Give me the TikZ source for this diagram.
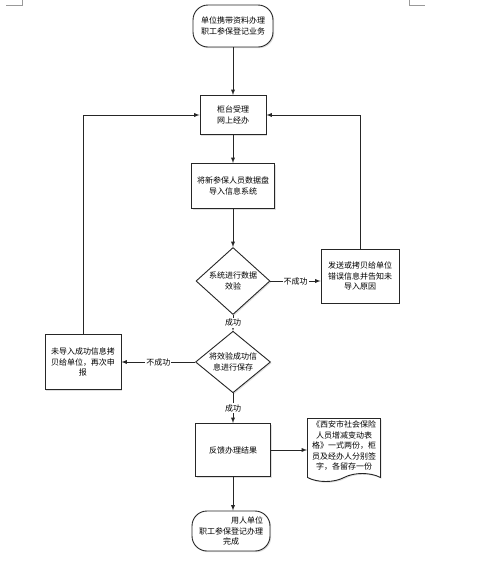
\documentclass[tikz,border=0pt]{standalone}
\usepackage{fontspec}
\newfontfamily\cjk{Noto Sans CJK SC}
\usetikzlibrary{shapes.geometric,shapes.symbols,shadows}

\tikzset{
  line/.style={draw=black!85,line width=0.9pt},
  shade/.style={drop shadow={fill=black!25,shadow xshift=1.2pt,shadow yshift=-1.2pt}},
  stepbox/.style={line,fill=white,shade,rectangle,inner sep=1pt},
  term/.style={line,fill=white,shade,rectangle,rounded corners=15pt,inner sep=1pt},
  test/.style={line,fill=white,shade,diamond,inner sep=0pt,aspect=1.1},
  paper/.style={line,fill=white,shade,tape,tape bend top=none,tape bend height=8pt,inner sep=1pt},
  flow/.style={line,-latex},
  tag/.style={fill=white,inner sep=1pt}
}

\begin{document}
\begin{tikzpicture}[x=1pt,y=-1pt,
    font=\cjk\fontsize{8}{10.5}\selectfont,
    every node/.append style={align=center}]
  \useasboundingbox (0,0) rectangle (480,579);
  % corner marks of the page
  \draw[black!40] (6,5) -- (22,5) -- (22,0);
  \draw[black!40] (409,0) -- (409,5) -- (425,5);

  \node[term,minimum width=80,minimum height=42] (start) at (233,26)
       {单位携带资料办理\\职工参保登记业务};
  \node[stepbox,minimum width=66,minimum height=39] (accept) at (233,115)
       {柜台受理\\网上经办};
  \node[stepbox,minimum width=83,minimum height=45] (import) at (233,186)
       {将新参保人员数据盘\\导入信息系统};
  \node[test,minimum width=74,minimum height=67] (check) at (233,281)
       {系统进行数据\\效验};
  \node[stepbox,minimum width=78,minimum height=54] (errsend) at (360,276)
       {发送或拷贝给单位\\错误信息并告知未\\导入原因};
  \node[test,minimum width=75,minimum height=53] (save) at (233,362)
       {将效验成功信\\息进行保存};
  \node[stepbox,minimum width=76,minimum height=55] (retry) at (83,362)
       {未导入成功信息拷\\贝给单位，再次申\\报};
  \node[stepbox,minimum width=75,minimum height=53] (feedback) at (233,450)
       {反馈办理结果};
  \node[paper,minimum width=73,minimum height=63] (form) at (344,446)
       {《西安市社会保险\\人员增减变动表\\格》一式两份，柜\\员及经办人分别签\\字，各留存一份};
  \node[term,minimum width=78,minimum height=40] (finish) at (231,531)
       {\hspace*{4em}用人单位\\职工参保登记办理\\完成};

  \draw[flow] (start) -- (accept);
  \draw[flow] (accept) -- (import);
  \draw[flow] (import) -- (check);
  \draw[flow] (check) -- node[tag] {不成功} (check -| errsend.west);
  \draw[flow] (errsend.north) |- (accept.east);
  \draw[flow] (check) -- node[tag] {成功} (save);
  \draw[flow] (save) -- node[tag] {不成功} (retry);
  \draw[flow] (retry.north) |- (accept.west);
  \draw[flow] (save) -- node[tag] {成功} (feedback);
  \draw[flow] (feedback) -- (feedback -| form.west);
  \draw[flow] (feedback) -- (feedback |- finish.north);
\end{tikzpicture}
\end{document}
